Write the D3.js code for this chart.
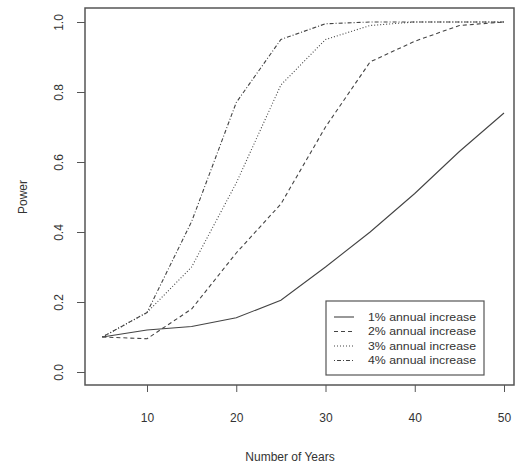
<!DOCTYPE html>
<html>
<head>
<meta charset="utf-8">
<script src="https://cdn.jsdelivr.net/npm/d3@7"></script>
<style>
  body { margin: 0; background: #fff; }
  text { font-family: "Liberation Sans", Arial, sans-serif; fill: #333; }
</style>
</head>
<body>
<div id="chart"></div>
<script>
'use strict';
// data
var years = [5, 10, 15, 20, 25, 30, 35, 40, 45, 50];
var inc1 = [0.10, 0.12, 0.13, 0.155, 0.205, 0.30, 0.40, 0.51, 0.63, 0.74];
var inc2 = [0.10, 0.095, 0.18, 0.34, 0.48, 0.70, 0.886, 0.945, 0.99, 1.0];
var inc3 = [0.10, 0.17, 0.30, 0.54, 0.82, 0.95, 0.99, 1.0, 1.0, 1.0];
var inc4 = [0.10, 0.17, 0.43, 0.77, 0.95, 0.995, 1.0, 1.0, 1.0, 1.0];
var seriesNames = ['1% annual increase', '2% annual increase', '3% annual increase', '4% annual increase'];
var xTicks = [10, 20, 30, 40, 50];
var yTicks = [0.0, 0.2, 0.4, 0.6, 0.8, 1.0];

var width = 516, height = 466;
var box = {left: 85, top: 8, right: 514, bottom: 385};
var dashes = [null, '4,3', '1,2', '1,2,4,2'];

var svg = d3.select('#chart').append('svg')
    .attr('width', width)
    .attr('height', height);

// set the ranges
var x = d3.scaleLinear().domain([10, 50]).range([147, 504]);
var y = d3.scaleLinear().domain([-0.04, 1.04]).range([386, 8]);

var series = [inc1, inc2, inc3, inc4].map(function(vals, i) {
  return {name: seriesNames[i], dash: dashes[i],
    values: vals.map(function(v, j) { return {year: years[j], p: v}; })};
});

var line = d3.line()
    .x(function(d) { return x(d.year); })
    .y(function(d) { return y(d.p); });

svg.selectAll('.series')
    .data(series)
  .enter().append('path')
    .attr('class', 'series')
    .attr('d', function(d) { return line(d.values); })
    .attr('fill', 'none')
    .attr('stroke', '#444')
    .attr('stroke-width', 1.1)
    .attr('stroke-dasharray', function(d) { return d.dash; });

// plot frame
svg.append('rect')
    .attr('x', box.left)
    .attr('y', box.top)
    .attr('width', box.right - box.left)
    .attr('height', box.bottom - box.top)
    .attr('fill', 'none')
    .attr('stroke', '#555')
    .attr('stroke-width', 1.5);

// x axis
var xAxis = svg.append('g')
    .attr('transform', 'translate(0,' + box.bottom + ')')
    .call(d3.axisBottom(x).tickValues(xTicks).tickSize(7).tickPadding(21));
xAxis.select('.domain').remove();
xAxis.selectAll('line').attr('stroke', '#555');
xAxis.selectAll('text').attr('font-size', 12).style('fill', '#333');

// y axis, labels rotated like R's default
var yAxis = svg.append('g')
    .attr('transform', 'translate(' + box.left + ',0)')
    .call(d3.axisLeft(y).tickValues(yTicks).tickSize(8).tickFormat(d3.format('.1f')));
yAxis.select('.domain').remove();
yAxis.selectAll('line').attr('stroke', '#555');
yAxis.selectAll('.tick text')
    .attr('font-size', 12)
    .attr('x', null).attr('dy', null).attr('y', 0)
    .attr('text-anchor', 'middle')
    .attr('transform', 'translate(-22,0) rotate(-90)')
    .style('fill', '#333');

// axis labels
svg.append('text')
    .attr('x', 290)
    .attr('y', 461)
    .attr('text-anchor', 'middle')
    .attr('font-size', 12)
    .text('Number of Years');

svg.append('text')
    .attr('transform', 'translate(27,197) rotate(-90)')
    .attr('text-anchor', 'middle')
    .attr('font-size', 12)
    .text('Power');

// legend
var legend = svg.append('g');
legend.append('rect')
    .attr('x', 326).attr('y', 301)
    .attr('width', 158).attr('height', 74)
    .attr('fill', '#fff')
    .attr('stroke', '#555')
    .attr('stroke-width', 1.2);

var items = legend.selectAll('.item')
    .data(series)
  .enter().append('g')
    .attr('class', 'item')
    .attr('transform', function(d, i) { return 'translate(0,' + (317 + i * 14.5) + ')'; });

items.append('line')
    .attr('x1', 334).attr('x2', 354)
    .attr('stroke', '#444')
    .attr('stroke-width', 1.1)
    .attr('stroke-dasharray', function(d) { return d.dash; });

items.append('text')
    .attr('x', 368)
    .attr('dy', '0.35em')
    .attr('font-size', 10.5)
    .attr('textLength', 108)
    .attr('lengthAdjust', 'spacingAndGlyphs')
    .text(function(d) { return d.name; });
</script>
</body>
</html>
